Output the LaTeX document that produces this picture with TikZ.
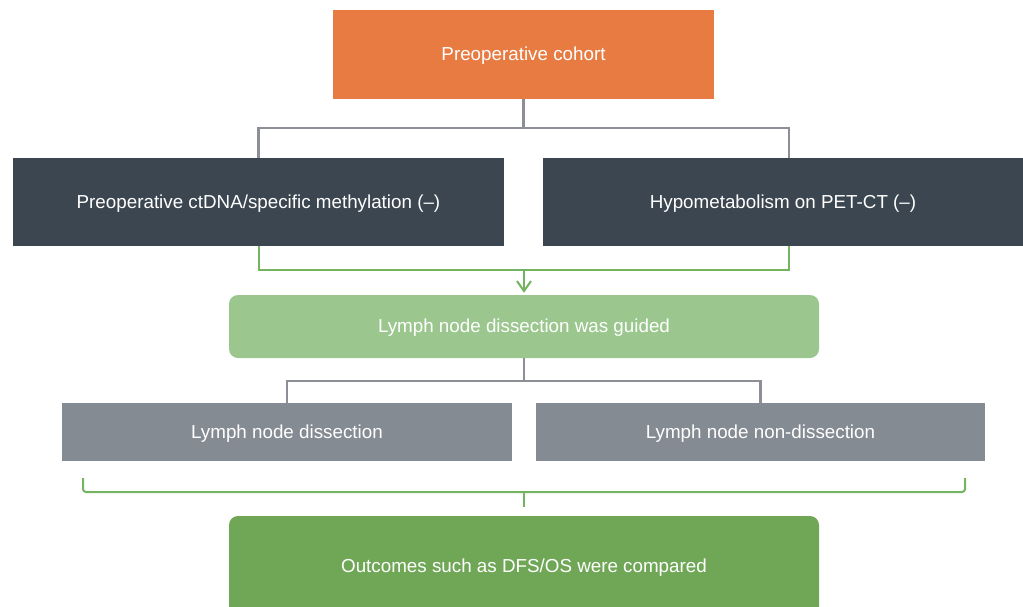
\documentclass[tikz,border=0pt]{standalone}
\usepackage{fontspec}
\setmainfont{Liberation Sans}
\usepackage{xcolor}
\usetikzlibrary{positioning,arrows.meta}

\definecolor{cohortorange}{HTML}{E77B42}
\definecolor{slatedark}{HTML}{3B4650}
\definecolor{leafgreen}{HTML}{9BC78F}
\definecolor{stonegray}{HTML}{858B93}
\definecolor{deepgreen}{HTML}{6FA757}
\definecolor{wiregray}{HTML}{8C9096}
\definecolor{wiregreen}{HTML}{74B35F}

\begin{document}
\begin{tikzpicture}[x=1pt, y=-1pt,
  box/.style = {fill=#1, text=white, inner sep=0pt, font=\fontsize{18.8}{22}\selectfont, text depth=1pt},
  roundbox/.style = {box=#1, rounded corners=9pt},
  grayline/.style = {draw=wiregray, line width=2.4pt},
  greenline/.style = {draw=wiregreen, line width=2pt}]
\useasboundingbox (0,0) rectangle (1023,606);

\node[box=cohortorange, minimum width=381pt, minimum height=89pt] (cohort) at (523.5,54.5) {Preoperative cohort};
\node[box=slatedark, minimum width=491pt, minimum height=88pt] (ctdna) at (258.5,202) {Preoperative ctDNA/specific methylation (--)};
\node[box=slatedark, minimum width=480pt, minimum height=88pt] (pet) at (783,202) {Hypometabolism on PET-CT (--)};
\node[roundbox=leafgreen, minimum width=590pt, minimum height=63pt] (guided) at (524,326.5) {Lymph node dissection was guided};
\node[box=stonegray, minimum width=450pt, minimum height=58pt] (dissect) at (287,432) {Lymph node dissection};
\node[box=stonegray, minimum width=449pt, minimum height=58pt] (nondissect) at (760.5,432) {Lymph node non-dissection};
\node[roundbox=deepgreen, minimum width=590pt, minimum height=100pt] (outcome) at (524,566) {Outcomes such as DFS/OS were compared};

% split of the cohort
\draw[grayline] (cohort.south) -- ++(0,29) coordinate (j1);
\draw[grayline] (ctdna.north) |- (j1) -| ([xshift=6pt]pet.north);

% merge into guided dissection
\coordinate (j2) at (524,270);
\draw[greenline] (ctdna.south) |- (j2) -| ([xshift=6pt]pet.south);
\draw[greenline, -{Straight Barb[length=10pt,width=14pt]}, shorten >=2pt] (j2) -- (guided.north);

% split of the guided dissection
\draw[grayline] (guided.south) -- ++(0,23) coordinate (j3);
\draw[grayline] (dissect.north) |- (j3) -| (nondissect.north);

% bracket to outcomes
\coordinate (bl) at (83,478);
\coordinate (br) at (965,478);
\coordinate (j4) at (524,492);
\draw[greenline, rounded corners=3pt] (bl) |- (j4) -| (br);
\draw[greenline] (j4) -- ([yshift=9pt]outcome.north);
\end{tikzpicture}
\end{document}
